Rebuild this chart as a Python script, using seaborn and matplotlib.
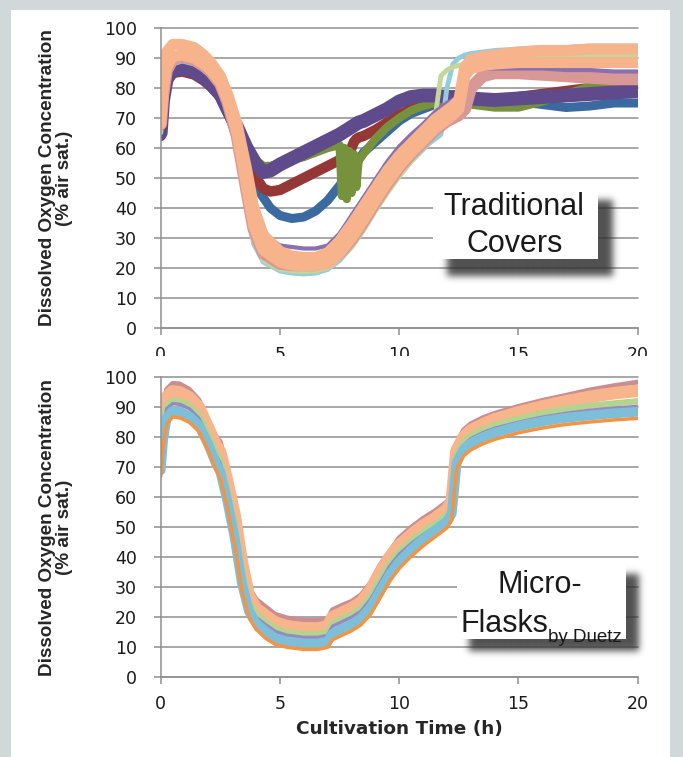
import matplotlib
matplotlib.use("Agg")
import matplotlib.pyplot as plt
from matplotlib.patches import Rectangle
import numpy as np
import seaborn as sns

# ---------------- data: Traditional covers (top panel) ----------------
t_trad_low = [0, 0.1, 0.25, 0.5, 0.9, 1.4, 1.8, 2.1, 2.5, 2.8,
              3.2, 3.6, 3.9, 4.3, 5.0, 5.5, 6.0, 6.5, 7.0, 7.5,
              8.0, 8.5, 9.0, 9.5, 10.0, 10.5, 11.0, 11.25, 11.5, 11.75,
              12.0, 12.25, 12.5, 12.75, 13.0, 13.5, 14, 15, 16, 17,
              18, 19, 20]
trad_lightblue = [65, 76, 84, 88, 89, 88, 86, 84, 80, 74,
                  62, 40, 28, 22, 19, 18.3, 18, 18.3, 19.5, 22.5,
                  27, 33, 40, 46, 51, 55.5, 59.5, 61.5, 63, 64.5,
                  80, 88, 90, 91, 91.5, 92, 92.5, 93, 93.5, 93.5,
                  94, 94, 94]
trad_lightgreen = [65.5, 76.5, 84.5, 88.5, 89.5, 88.5, 86.5, 84.5, 80.5, 74.5,
                   62.5, 41, 29, 22.5, 19.5, 19, 18.8, 19, 20, 23,
                   27, 32.5, 39, 45, 50.5, 55.5, 60, 62, 70, 84,
                   86, 87, 87.5, 88, 88.5, 89, 89.5, 90, 90.5, 90.5,
                   90.5, 90.5, 90.5]
trad_mauve = [68, 78, 86, 89.5, 90.5, 89.5, 87.5, 85.5, 81.5, 75.5,
              64, 46, 33, 25, 21.5, 21, 21, 21, 22, 25,
              29.5, 35.5, 42, 48, 53.5, 58, 62, 64, 66, 67.5,
              69, 70, 71, 73, 80, 84, 85, 85, 84.5, 84,
              83.5, 83, 83]
trad_lightpurple = [67, 78, 87, 91, 91.5, 90.5, 88.5, 86.5, 83, 78,
                    69, 55, 40, 31, 27.5, 27, 26.5, 26.5, 27.5, 31.5,
                    37.5, 43.5, 49.5, 55.5, 60.5, 64.5, 68, 70, 72, 73.5,
                    75, 76, 77.5, 84, 86, 86.5, 86.5, 86.5, 86.5, 86,
                    86, 85.5, 85.5]
trad_peach_low = [68, 79, 87, 90.5, 91, 90, 88, 86, 82, 76,
                  65, 47, 34, 26, 22, 21, 20.8, 20.8, 21.5, 25,
                  30, 36, 42.5, 48.5, 54, 58.5, 62.5, 64.5, 66.5, 68,
                  69.5, 71, 73, 84, 86.5, 87.5, 88, 88.5, 88.5, 88.5,
                  88.5, 88.5, 88.5]
trad_peach_high = [70, 82, 92, 94.5, 94.5, 93.5, 91, 88.5, 84, 78,
                   68, 53, 40, 31, 25.5, 24, 23.5, 23.5, 25, 29,
                   34.5, 40.5, 46.5, 52.5, 57.5, 61.5, 65.5, 67.5, 69.5, 71,
                   72.5, 74, 76, 87, 89.5, 90.5, 91, 92, 92.5, 92.5,
                   93, 93, 93]

t_trad_high = [0, 0.1, 0.25, 0.5, 0.9, 1.4, 1.8, 2.1, 2.5, 2.8,
               3.2, 3.6, 4.0, 4.3, 4.6, 5.0, 5.5, 6.0, 6.5, 7.0,
               7.5, 7.6, 7.7, 7.8, 7.9, 8.0, 8.1, 8.2, 8.3, 8.5,
               9.0, 9.5, 10.0, 10.5, 11.0, 11.5, 12.0, 12.5, 13.0, 14,
               15, 16, 17, 18, 19, 20]
trad_blue = [64, 75, 83, 86, 86.5, 85.5, 83.5, 81.5, 78, 72.5,
             63, 54, 47, 43.5, 40, 37.5, 36.5, 37, 39, 42.5,
             47.5, 48.5, 49.5, 50.5, 51.5, 52.5, 53.5, 55, 56, 58.5,
             62, 65.5, 69, 71.5, 73, 74.5, 75.5, 76, 76, 76,
             75.5, 74.5, 73.5, 74, 75, 75]
trad_red = [64, 75, 82, 85, 85.5, 84.5, 82.5, 80.5, 77, 72,
            65, 57, 50, 46.5, 45.5, 46, 48, 50, 52, 54,
            56, 56.5, 57, 57.5, 58, 60, 62, 63, 63.5, 64,
            66, 68.5, 71, 73, 74.5, 75, 75.5, 75.5, 76, 76,
            77, 78, 79, 80, 80.5, 81]
trad_green = [66, 77, 84, 87, 87.5, 86.5, 84.5, 82.5, 79, 74,
              68, 61, 56, 54, 54, 55, 56, 57, 58.5, 60,
              61, 44, 60, 43, 59, 45, 58, 47, 56, 58,
              63, 67, 70, 72.5, 74, 75, 75.5, 75, 74.5, 73.5,
              73.5, 75.5, 78, 80.5, 82, 83]
trad_darkpurple = [65, 76, 83, 86, 86.5, 85.5, 83.5, 81.5, 78, 73,
                   67, 60, 54.5, 52, 52.5, 54.5, 56.5, 58.5, 60.5, 62.5,
                   64.5, 65, 65.5, 66, 66.5, 67, 67.5, 68, 68.5, 69,
                   71, 73, 75.5, 77, 77.5, 77.5, 77, 77, 76.5, 76,
                   76.5, 77, 77.5, 78, 78.5, 79]

# ---------------- data: Micro-Flasks (bottom panel) ----------------
t_micro = [0, 0.1, 0.25, 0.5, 0.8, 1.2, 1.6, 2.0, 2.3, 2.5,
           2.8, 3.1, 3.4, 3.7, 4.0, 4.4, 4.8, 5.3, 6.0, 6.6,
           7.0, 7.2, 7.6, 8.0, 8.4, 8.8, 9.2, 9.6, 10.0, 10.5,
           11.0, 11.5, 12.0, 12.2, 12.4, 12.7, 13.0, 13.5, 14, 15,
           16, 17, 18, 19, 20]
micro_mauve = [80, 90, 96, 98, 97.8, 96, 92.5, 85.5, 80.5, 78.5,
               69, 58.5, 43, 30, 26, 23.5, 21, 19.8, 19, 19,
               19.5, 22.5, 24, 25.3, 27.5, 31.5, 37.5, 42, 46.5, 50,
               53, 55.5, 58.5, 61, 78, 82.5, 84.5, 86.5, 88, 90.3,
               92.3, 94, 95.8, 97.2, 98.4]
micro_peach = [77, 87, 93.5, 95.3, 95, 93.3, 90, 83, 77.5, 75,
               65, 54, 38.5, 27, 23, 20.5, 18.3, 17, 16.3, 16.3,
               17, 20, 21.5, 23, 25, 29, 35, 40, 44, 47.5,
               50.5, 53, 56, 58.5, 75.5, 80, 82.3, 84.3, 86, 88.3,
               90.3, 92, 93.5, 94.7, 95.5]
micro_green = [74, 84, 90.5, 92.3, 92, 90.5, 87.3, 80.7, 75, 72.3,
               62, 51, 35.7, 25, 21, 18.5, 16.3, 15, 14.3, 14.3,
               15, 18, 19.5, 21, 23, 27, 32.7, 38, 42, 45.5,
               48.5, 51, 54, 56.5, 73.8, 78.3, 80.5, 82.5, 84, 86.2,
               88, 89.5, 90.5, 91.3, 92]
micro_purple = [72, 82, 89.5, 91.2, 91, 89.5, 86.3, 79.7, 74, 71.3,
                61, 49.5, 34.5, 24, 20, 17.5, 15.3, 14, 13.3, 13.3,
                14, 17, 18.5, 20, 22, 26, 31.5, 37, 41, 44.5,
                47.5, 50, 53, 55.5, 72.8, 77.3, 79.5, 81.5, 83, 85,
                86.7, 88, 89, 89.7, 90.3]
micro_blue = [69, 79, 86.5, 88.8, 88.6, 87, 84, 77.5, 71.5, 68.5,
              58.5, 46.5, 31.5, 22, 18, 15.3, 13, 12, 11.3, 11.3,
              12, 14.5, 16.2, 17.7, 19.7, 23.3, 28.8, 34.2, 38.5, 42.5,
              46, 49, 52, 54.5, 71.5, 76, 78, 80, 81.5, 83.7,
              85.3, 86.5, 87.3, 88, 88.5]
micro_orange = [67, 77, 84.5, 86.8, 86.5, 85, 82, 75.5, 69.5, 66.3,
                56.3, 44, 29, 20, 16, 13, 11, 10, 9.3, 9.3,
                10, 12.5, 14, 15.5, 17.5, 21, 26.5, 32, 36.3, 40.3,
                43.8, 46.8, 49.8, 52.3, 69.3, 73.8, 75.8, 77.8, 79.3, 81.5,
                83.1, 84.3, 85.1, 85.8, 86.3]

x_ticks = [0, 5, 10, 15, 20]
y_ticks = [0, 10, 20, 30, 40, 50, 60, 70, 80, 90, 100]
ylabel = "Dissolved Oxygen Concentration\n(% air sat.)"
xlabel = "Cultivation Time (h)"

# (time, values, colour, linewidth) in drawing order
top_series = [
    (t_trad_high, trad_blue, "#3a6aa0", 6.5),
    (t_trad_high, trad_red, "#953735", 7.5),
    (t_trad_high, trad_green, "#76923c", 6),
    (t_trad_high, trad_darkpurple, "#5f4a8b", 10),
    (t_trad_low, trad_lightblue, "#93cddd", 3.5),
    (t_trad_low, trad_lightgreen, "#c3d69b", 3.5),
    (t_trad_low, trad_mauve, "#d99795", 9),
    (t_trad_low, trad_lightpurple, "#8a70b0", 3),
    (t_trad_low, trad_peach_low, "#f7b38c", 8),
    (t_trad_low, trad_peach_high, "#f7b38c", 8),
]
bottom_series = [
    (t_micro, micro_mauve, "#c98d92", 3.5),
    (t_micro, micro_peach, "#f8b58c", 9),
    (t_micro, micro_green, "#b3d48f", 4.5),
    (t_micro, micro_purple, "#9a88c2", 2.5),
    (t_micro, micro_blue, "#7dbfd9", 7),
    (t_micro, micro_orange, "#f39445", 2.5),
]

W, H = 683, 757
GRID = "#8f8f8f"
sns.set_style("white")

fig = plt.figure(figsize=(W / 100, H / 100), dpi=100)
fig.patch.set_facecolor("#d0d8da")
fig.add_artist(Rectangle((11 / W, 0), (670 - 11) / W, 1 - 10 / H,
                         transform=fig.transFigure, facecolor="white",
                         edgecolor="none", zorder=-1))

ax_top = fig.add_axes([160.7 / W, 1 - 328 / H, 477 / W, 300 / H])
ax_bot = fig.add_axes([160.7 / W, 1 - 677.3 / H, 477 / W, 300 / H])


def style_panel(ax):
    ax.set_facecolor("none")
    ax.set_xlim(0, 20)
    ax.set_ylim(0, 100)
    ax.set_xticks(x_ticks)
    ax.set_yticks(y_ticks)
    ax.grid(axis="y", color=GRID, linewidth=1.1)
    ax.grid(axis="x", visible=False)
    ax.set_axisbelow(True)
    for side in ("top", "right"):
        ax.spines[side].set_visible(False)
    for side in ("left", "bottom"):
        ax.spines[side].set_color(GRID)
        ax.spines[side].set_linewidth(1.1)
    ax.tick_params(axis="both", direction="out", length=5, width=1.1,
                   color=GRID, labelsize=12.5, labelcolor="#1a1a1a",
                   left=True, bottom=True)
    ax.tick_params(axis="y", pad=12)
    ax.tick_params(axis="x", pad=8)
    for gl in ax.get_ygridlines():
        gl.set_clip_on(False)
    ax.set_ylabel(ylabel, fontsize=13.6, fontweight="bold",
                  family="Liberation Sans", linespacing=1.0,
                  ha="center", va="center")
    ax.yaxis.set_label_coords(-0.2205, 0.5)


def shadow_box(ax, x0, x1, y0, y1, off_x, off_y, sigma=3.5, margin=14):
    # white label box with a blurred drop shadow (blur done on a small mask)
    pos = ax.get_position()
    ux = 20 / (pos.width * W)
    uy = 100 / (pos.height * H)
    wpx = int(round((x1 - x0) / ux)) + 2 * margin
    hpx = int(round((y1 - y0) / uy)) + 2 * margin
    mask = np.zeros((hpx, wpx))
    mask[margin:hpx - margin, margin:wpx - margin] = 1.0
    r = np.arange(-int(3 * sigma), int(3 * sigma) + 1)
    kern = np.exp(-r ** 2 / (2 * sigma ** 2))
    kern /= kern.sum()
    mask = np.apply_along_axis(lambda v: np.convolve(v, kern, mode="same"), 0, mask)
    mask = np.apply_along_axis(lambda v: np.convolve(v, kern, mode="same"), 1, mask)
    img = np.zeros((hpx, wpx, 4))
    img[..., :3] = 0.2
    img[..., 3] = mask * 0.85
    ext = (x0 + (off_x - margin) * ux, x1 + (off_x + margin) * ux,
           y0 - (off_y + margin) * uy, y1 - (off_y - margin) * uy)
    ax.imshow(img, extent=ext, origin="upper", aspect="auto",
              interpolation="bilinear", zorder=5, clip_on=False)
    ax.add_patch(Rectangle((x0, y0), x1 - x0, y1 - y0, facecolor="white",
                           edgecolor="none", zorder=6))
    ax.set_xlim(0, 20)
    ax.set_ylim(0, 100)


for ax, series in ((ax_top, top_series), (ax_bot, bottom_series)):
    for t, vals, color, lw in series:
        sns.lineplot(x=t, y=vals, color=color, linewidth=lw, sort=False,
                     errorbar=None, ax=ax)
    style_panel(ax)

ax_top.set_xlabel("")
ax_bot.set_xlabel(xlabel, fontsize=13.3, fontweight="bold", va="center")
ax_bot.xaxis.set_label_coords(0.5, -0.172)

box_font = dict(family="Liberation Sans", color="#1a1a1a", zorder=7)
shadow_box(ax_top, 11.42, 18.34, 23.0, 48.3, 14, 17)
ax_top.text(14.82, 37.67, "Traditional", ha="center", va="baseline",
            fontsize=22, **box_font)
ax_top.text(14.84, 25.33, "Covers", ha="center", va="baseline",
            fontsize=22, **box_font)

shadow_box(ax_bot, 12.42, 19.51, 12.8, 38.4, 12, 12)
ax_bot.text(15.9, 28.1, "Micro-", ha="center", va="baseline",
            fontsize=22, **box_font)
ax_bot.text(12.59, 15.1, "Flasks", ha="left", va="baseline",
            fontsize=22, **box_font)
ax_bot.text(16.25, 11.77, "by Duetz", ha="left", va="baseline",
            fontsize=13.5, **box_font)

# the lower panel sits over the bottom of the upper panel's tick labels
fig.add_artist(Rectangle((145 / W, 1 - 375.5 / H), (670 - 145) / W, 19.5 / H,
                         transform=fig.transFigure, facecolor="white",
                         edgecolor="none", zorder=5))

fig.savefig("out.png", dpi=100)
